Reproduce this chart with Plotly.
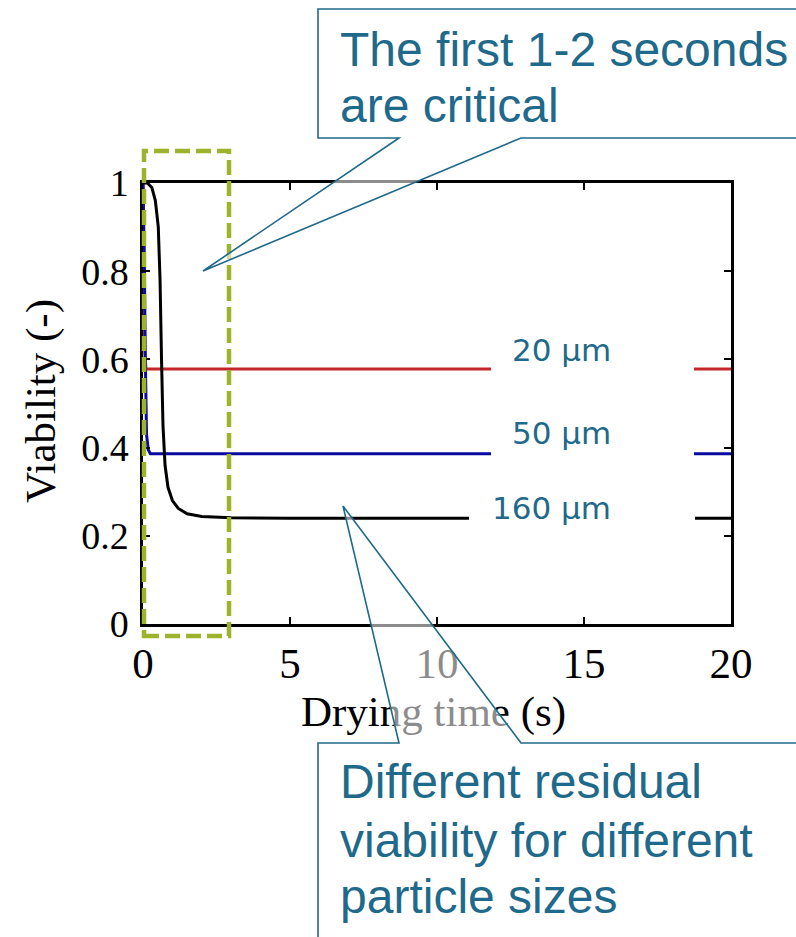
import plotly.graph_objects as go

# Simulated viability of dried particles vs. drying time for three particle sizes
sizes = ["20 µm", "50 µm", "160 µm"]

t_20 = [0.0, 0.03, 0.06, 0.10, 20.0]
v_20 = [1.0, 0.80, 0.62, 0.578, 0.578]

t_50 = [0.0, 0.04, 0.08, 0.12, 0.18, 0.25, 20.0]
v_50 = [1.0, 0.85, 0.60, 0.43, 0.395, 0.386, 0.386]

t_160 = [0.0, 0.15, 0.30, 0.42, 0.52, 0.58, 0.63, 0.68, 0.75, 0.85,
         1.0, 1.2, 1.5, 2.0, 3.0, 5.0, 20.0]
v_160 = [1.0, 1.0, 0.99, 0.96, 0.90, 0.78, 0.60, 0.45, 0.36, 0.31,
         0.28, 0.262, 0.25, 0.244, 0.241, 0.24, 0.24]

x_ticks = [0, 5, 10, 15, 20]
y_ticks = [0, 0.2, 0.4, 0.6, 0.8, 1.0]

W, H = 796, 937
L, R, T, B = 143, 731, 183, 624  # plot-area edges in pixels

def fx(p):
    return p / W

def fy(p):
    return 1 - p / H

TEAL = "#1F6A8A"
SERIF = "Liberation Serif, Times New Roman, serif"

fig = go.Figure()
fig.add_trace(go.Scatter(x=t_20, y=v_20, mode="lines", name=sizes[0],
                         line=dict(color="#C4262A", width=3)))
fig.add_trace(go.Scatter(x=t_50, y=v_50, mode="lines", name=sizes[1],
                         line=dict(color="#0A0AA0", width=3)))
fig.add_trace(go.Scatter(x=t_160, y=v_160, mode="lines", name=sizes[2],
                         line=dict(color="black", width=3)))

# x-axis title on a full-page pixel overlay so the callout sits above it
fig.add_trace(go.Scatter(x=[433.5], y=[715], xaxis="x2", yaxis="y2", mode="text",
                         text=["Drying time (s)"], textposition="middle center",
                         textfont=dict(family=SERIF, size=43, color="black"),
                         hoverinfo="skip", showlegend=False))

axis_common = dict(showline=True, linecolor="black", linewidth=2.5, mirror="ticks",
                   ticks="inside", ticklen=7, tickwidth=2, tickcolor="black",
                   showgrid=False, zeroline=False)
hidden = dict(visible=False, showgrid=False, zeroline=False, fixedrange=True)

fig.update_layout(
    width=W, height=H,
    margin=dict(l=0, r=0, t=0, b=0, autoexpand=False),
    paper_bgcolor="white", plot_bgcolor="rgba(0,0,0,0)",
    showlegend=False,
    xaxis=dict(domain=[L / W, R / W], range=[0, 20], tickvals=x_ticks,
               ticklabelstandoff=0,
               tickfont=dict(family=SERIF, size=43, color="black"), **axis_common),
    yaxis=dict(domain=[1 - B / H, 1 - T / H], range=[0, 1], tickvals=y_ticks,
               ticklabelstandoff=4,
               tickfont=dict(family=SERIF, size=38, color="black"), **axis_common),
    xaxis2=dict(domain=[0, 1], range=[0, W], anchor="y2", **hidden),
    yaxis2=dict(domain=[0, 1], range=[H, 0], anchor="x2", **hidden),
)

shapes = []
# white patches behind the size labels
for x0, x1, y0, y1 in [(491, 694, 388, 345), (491, 694, 470, 425), (469, 695, 540, 495)]:
    shapes.append(dict(type="rect", xref="paper", yref="paper",
                       x0=fx(x0), x1=fx(x1), y0=fy(y0), y1=fy(y1),
                       fillcolor="white", line=dict(width=0), layer="above"))

# dashed frame around the first seconds
shapes.append(dict(type="rect", xref="paper", yref="paper",
                   x0=fx(144), x1=fx(229), y0=fy(636), y1=fy(151),
                   line=dict(color="#9CB32B", width=4.5, dash="15px,6px"),
                   fillcolor="rgba(0,0,0,0)", layer="above"))

def path(points):
    return "M " + " L ".join(f"{fx(a):.5f},{fy(b):.5f}" for a, b in points) + " Z"

callout_style = dict(type="path", xref="paper", yref="paper",
                     fillcolor="rgba(255,255,255,0.55)",
                     line=dict(color=TEAL, width=1.6), layer="above")
shapes.append(dict(path=path([(318, 9), (805, 9), (805, 138), (521, 138),
                              (203, 271), (399, 138), (318, 138)]), **callout_style))
shapes.append(dict(path=path([(318, 743), (399, 743), (343, 506), (521, 743),
                              (805, 743), (805, 945), (318, 945)]), **callout_style))
fig.update_layout(shapes=shapes)

ann = []
callout_lines = [("The first 1-2 seconds", 50), ("are critical", 106),
                 ("Different residual", 781), ("viability for different", 840),
                 ("particle sizes", 896)]
for txt, yc in callout_lines:
    ann.append(dict(text=txt, xref="paper", yref="paper", x=fx(338), y=fy(yc),
                    xanchor="left", yanchor="middle", showarrow=False,
                    font=dict(family="Liberation Sans, Arial, sans-serif", size=48, color=TEAL)))

label_pos = [(14.25, 0.622), (14.25, 0.432), (13.91, 0.262)]
for lab, (lx, ly) in zip(sizes, label_pos):
    ann.append(dict(text=lab, xref="x", yref="y", x=lx, y=ly,
                    xanchor="center", yanchor="middle", showarrow=False,
                    font=dict(family="DejaVu Sans, Verdana, sans-serif", size=31, color=TEAL)))

ann.append(dict(text="Viability (-)", xref="paper", yref="paper", x=fx(41), y=fy(401),
                xanchor="center", yanchor="middle", textangle=-90, showarrow=False,
                font=dict(family=SERIF, size=43, color="black")))
fig.update_layout(annotations=ann)

fig.write_html("out.html")
